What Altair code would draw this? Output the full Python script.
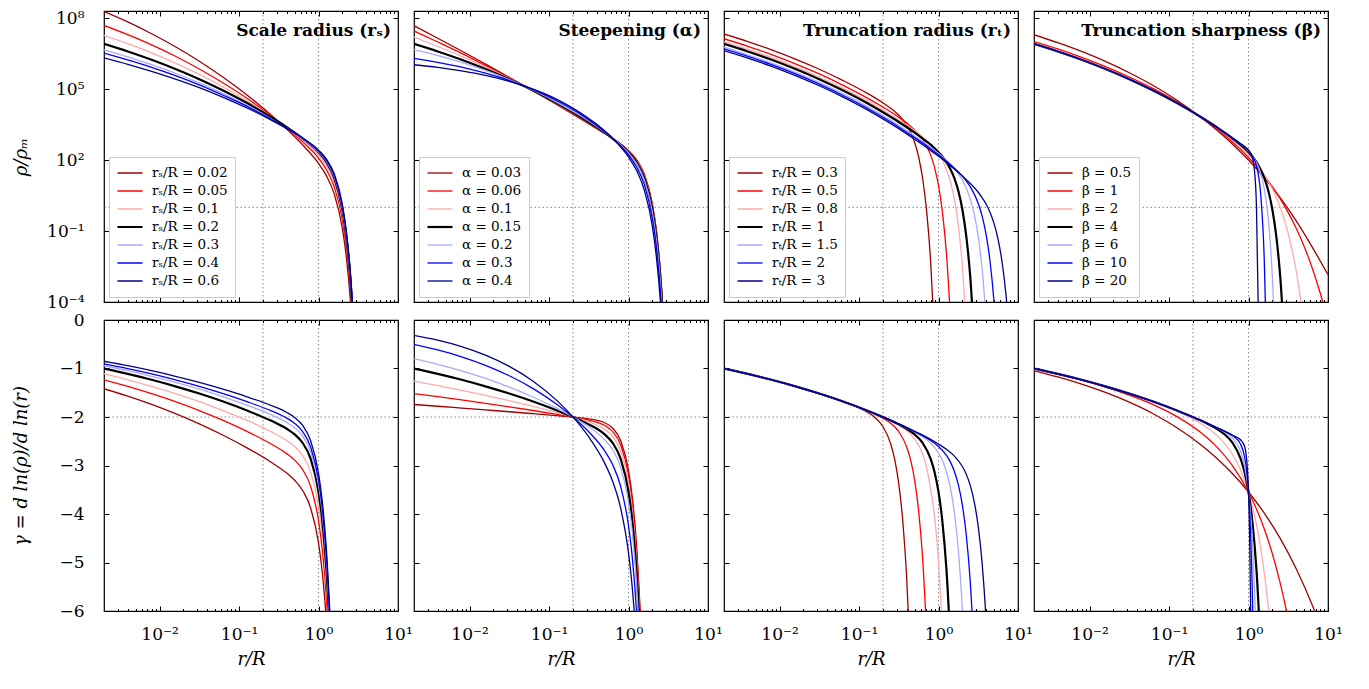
import altair as alt
import pandas as pd

FONT = "DejaVu Serif"
COLORS = ["#a00000", "#ff0000", "#ffaaaa", "#000000", "#aaaaff", "#0000ff", "#000088"]
WIDTHS = [1.3, 1.3, 1.3, 2.2, 1.3, 1.3, 1.3]

PANEL_TITLES = ["Scale radius (rₛ)", "Steepening (α)", "Truncation radius (rₜ)", "Truncation sharpness (β)"]

# ---------------- panel 1 : scale radius ----------------
RS_LABELS = ["rₛ/R = 0.02", "rₛ/R = 0.05", "rₛ/R = 0.1", "rₛ/R = 0.2", "rₛ/R = 0.3", "rₛ/R = 0.4", "rₛ/R = 0.6"]
RS_TOP_LOGR = [-2.7, -2.4, -2.1, -1.8, -1.5, -1.2, -0.9, -0.6, -0.4, -0.2, 0, 0.1, 0.2, 0.3, 0.35, 0.4, 0.45]
RS_TOP_LOGRHO = [
    [8.28, 7.84, 7.34, 6.79, 6.18, 5.50, 4.75, 3.92, 3.31, 2.64, 1.86, 1.33, 0.54, -0.89, -2.10, -3.90, -6.63],
    [7.69, 7.30, 6.87, 6.39, 5.85, 5.26, 4.61, 3.88, 3.35, 2.77, 2.08, 1.59, 0.85, -0.53, -1.71, -3.48, -6.19],
    [7.27, 6.92, 6.53, 6.10, 5.62, 5.09, 4.50, 3.84, 3.36, 2.84, 2.20, 1.75, 1.04, -0.30, -1.47, -3.22, -5.91],
    [6.91, 6.59, 6.24, 5.85, 5.42, 4.94, 4.41, 3.82, 3.39, 2.91, 2.33, 1.91, 1.23, -0.09, -1.24, -2.97, -5.65],
    [6.66, 6.36, 6.03, 5.67, 5.26, 4.81, 4.31, 3.75, 3.35, 2.90, 2.35, 1.94, 1.27, -0.03, -1.17, -2.90, -5.56],
    [6.52, 6.23, 5.92, 5.57, 5.18, 4.74, 4.27, 3.73, 3.35, 2.92, 2.38, 1.98, 1.33, 0.04, -1.09, -2.81, -5.48],
    [6.32, 6.05, 5.75, 5.42, 5.06, 4.65, 4.20, 3.70, 3.33, 2.93, 2.42, 2.04, 1.40, 0.13, -1.00, -2.72, -5.37],
]
RS_BOT_LOGR = [-2.7, -2.4, -2.1, -1.8, -1.5, -1.2, -0.9, -0.6, -0.4, -0.3, -0.2, -0.1, 0, 0.05, 0.1, 0.15]
RS_BOT_GAMMA = [
    [-1.416, -1.570, -1.741, -1.931, -2.142, -2.376, -2.636, -2.928, -3.157, -3.305, -3.515, -3.873, -4.597, -5.245, -6.235, -7.77],
    [-1.233, -1.368, -1.518, -1.683, -1.867, -2.071, -2.297, -2.552, -2.755, -2.889, -3.084, -3.426, -4.135, -4.774, -5.757, -7.28],
    [-1.112, -1.233, -1.368, -1.517, -1.683, -1.867, -2.070, -2.300, -2.486, -2.610, -2.795, -3.127, -3.825, -4.459, -5.436, -6.96],
    [-1.002, -1.111, -1.233, -1.368, -1.517, -1.682, -1.866, -2.074, -2.243, -2.359, -2.535, -2.858, -3.546, -4.176, -5.148, -6.66],
    [-0.943, -1.046, -1.160, -1.287, -1.427, -1.583, -1.756, -1.952, -2.112, -2.223, -2.394, -2.713, -3.396, -4.023, -4.992, -6.50],
    [-0.903, -1.002, -1.111, -1.233, -1.367, -1.517, -1.682, -1.869, -2.024, -2.132, -2.300, -2.615, -3.294, -3.920, -4.887, -6.40],
    [-0.850, -0.943, -1.046, -1.160, -1.286, -1.427, -1.583, -1.760, -1.906, -2.010, -2.173, -2.484, -3.159, -3.782, -4.747, -6.26],
]

# ---------------- panel 2 : steepening ----------------
AL_LABELS = ["α = 0.03", "α = 0.06", "α = 0.1", "α = 0.15", "α = 0.2", "α = 0.3", "α = 0.4"]
AL_TOP_LOGR = [-2.7, -2.4, -2.1, -1.8, -1.5, -1.2, -0.9, -0.6, -0.4, -0.2, 0, 0.1, 0.2, 0.3, 0.35, 0.4, 0.45]
AL_TOP_LOGRHO = [
    [7.68, 7.15, 6.61, 6.06, 5.50, 4.92, 4.34, 3.74, 3.33, 2.91, 2.40, 2.02, 1.40, 0.15, -0.96, -2.66, -5.30],
    [7.46, 6.99, 6.51, 6.00, 5.48, 4.93, 4.36, 3.76, 3.35, 2.91, 2.38, 2.00, 1.36, 0.10, -1.03, -2.74, -5.38],
    [7.20, 6.80, 6.38, 5.93, 5.45, 4.94, 4.38, 3.79, 3.37, 2.92, 2.36, 1.96, 1.31, 0.02, -1.11, -2.83, -5.49],
    [6.91, 6.59, 6.24, 5.85, 5.42, 4.94, 4.41, 3.82, 3.39, 2.91, 2.33, 1.91, 1.23, -0.09, -1.24, -2.97, -5.65],
    [6.67, 6.42, 6.13, 5.79, 5.40, 4.95, 4.44, 3.86, 3.42, 2.92, 2.30, 1.86, 1.15, -0.20, -1.37, -3.12, -5.82],
    [6.30, 6.13, 5.93, 5.67, 5.36, 4.98, 4.51, 3.93, 3.46, 2.92, 2.22, 1.72, 0.95, -0.47, -1.68, -3.48, -6.23],
    [6.03, 5.92, 5.77, 5.58, 5.33, 5.00, 4.57, 3.99, 3.51, 2.92, 2.13, 1.57, 0.72, -0.80, -2.07, -3.92, -6.74],
]
AL_BOT_LOGR = [-2.7, -2.4, -2.1, -1.8, -1.5, -1.2, -0.9, -0.7, -0.5, -0.3, -0.2, -0.1, 0, 0.05, 0.1, 0.15]
AL_BOT_GAMMA = [
    [-1.742, -1.778, -1.816, -1.854, -1.892, -1.932, -1.972, -2.000, -2.038, -2.119, -2.228, -2.483, -3.099, -3.691, -4.626, -6.102],
    [-1.517, -1.581, -1.648, -1.718, -1.791, -1.866, -1.945, -2.000, -2.066, -2.176, -2.301, -2.571, -3.203, -3.803, -4.745, -6.230],
    [-1.261, -1.352, -1.449, -1.552, -1.663, -1.782, -1.910, -2.000, -2.104, -2.255, -2.402, -2.694, -3.349, -3.961, -4.916, -6.413],
    [-1.002, -1.111, -1.233, -1.368, -1.517, -1.682, -1.866, -2.000, -2.152, -2.359, -2.535, -2.858, -3.546, -4.176, -5.148, -6.663],
    [-0.796, -0.914, -1.049, -1.204, -1.383, -1.588, -1.823, -1.999, -2.202, -2.466, -2.675, -3.033, -3.759, -4.409, -5.401, -6.938],
    [-0.502, -0.618, -0.760, -0.935, -1.150, -1.415, -1.741, -1.999, -2.305, -2.698, -2.981, -3.423, -4.241, -4.940, -5.985, -7.577],
    [-0.317, -0.417, -0.550, -0.726, -0.957, -1.261, -1.662, -1.998, -2.412, -2.951, -3.325, -3.870, -4.808, -5.572, -6.687, -8.35],
]

# ---------------- panel 3 : truncation radius ----------------
RT_LABELS = ["rₜ/R = 0.3", "rₜ/R = 0.5", "rₜ/R = 0.8", "rₜ/R = 1", "rₜ/R = 1.5", "rₜ/R = 2", "rₜ/R = 3"]
RT_TOP_LOGR = [
    [-2.7, -2.4, -2.1, -1.8, -1.5, -1.2, -0.9, -0.7, -0.55, -0.45, -0.35, -0.3, -0.25, -0.2, -0.15, -0.1, -0.05],
    [-2.7, -2.4, -2.1, -1.8, -1.5, -1.2, -0.9, -0.7, -0.5, -0.4, -0.3, -0.2, -0.15, -0.1, -0.05, 0, 0.05, 0.1, 0.15],
    [-2.7, -2.4, -2.1, -1.8, -1.5, -1.2, -0.9, -0.7, -0.5, -0.3, -0.2, -0.1, 0, 0.05, 0.1, 0.15, 0.2, 0.25, 0.3, 0.35],
    [-2.7, -2.4, -2.1, -1.8, -1.5, -1.2, -0.9, -0.7, -0.5, -0.3, -0.2, -0.1, 0, 0.05, 0.1, 0.15, 0.2, 0.25, 0.3, 0.35, 0.4, 0.45],
    [-2.7, -2.4, -2.1, -1.8, -1.5, -1.2, -0.9, -0.7, -0.5, -0.3, -0.1, 0, 0.1, 0.2, 0.25, 0.3, 0.35, 0.4, 0.45, 0.5, 0.55, 0.6],
    [-2.7, -2.4, -2.1, -1.8, -1.5, -1.2, -0.9, -0.7, -0.5, -0.3, -0.1, 0, 0.1, 0.2, 0.3, 0.35, 0.4, 0.45, 0.5, 0.55, 0.6, 0.65, 0.7, 0.75],
    [-2.7, -2.4, -2.1, -1.8, -1.5, -1.2, -0.9, -0.7, -0.5, -0.3, -0.1, 0, 0.1, 0.2, 0.3, 0.4, 0.5, 0.55, 0.6, 0.65, 0.7, 0.75, 0.8, 0.85, 0.9],
]
RT_TOP_LOGRHO = [
    [7.33, 7.01, 6.66, 6.27, 5.84, 5.36, 4.83, 4.42, 4.05, 3.71, 3.17, 2.74, 2.13, 1.22, -0.14, -2.23, -5.49],
    [7.13, 6.81, 6.46, 6.07, 5.64, 5.16, 4.63, 4.24, 3.81, 3.57, 3.27, 2.88, 2.60, 2.22, 1.69, 0.92, -0.22, -1.96, -4.64],
    [7.00, 6.68, 6.33, 5.94, 5.51, 5.03, 4.50, 4.11, 3.70, 3.24, 2.98, 2.67, 2.26, 1.98, 1.60, 1.08, 0.33, -0.79, -2.48, -5.09],
    [6.91, 6.59, 6.24, 5.85, 5.42, 4.94, 4.41, 4.02, 3.61, 3.16, 2.91, 2.65, 2.33, 2.14, 1.91, 1.61, 1.23, 0.69, -0.09, -1.24, -2.97, -5.65],
    [6.77, 6.45, 6.10, 5.71, 5.28, 4.80, 4.27, 3.88, 3.47, 3.02, 2.54, 2.28, 1.99, 1.64, 1.42, 1.15, 0.81, 0.35, -0.29, -1.24, -2.64, -4.79],
    [6.70, 6.38, 6.03, 5.64, 5.21, 4.73, 4.20, 3.81, 3.40, 2.95, 2.48, 2.22, 1.95, 1.66, 1.32, 1.11, 0.87, 0.56, 0.16, -0.39, -1.17, -2.33, -4.07, -6.74],
    [6.63, 6.31, 5.96, 5.57, 5.14, 4.66, 4.13, 3.74, 3.33, 2.88, 2.41, 2.16, 1.90, 1.62, 1.33, 1.01, 0.64, 0.40, 0.13, -0.23, -0.70, -1.36, -2.32, -3.73, -5.87],
]
RT_BOT_LOGR = [
    [-2.7, -2.4, -2.1, -1.8, -1.5, -1.2, -0.9, -0.8, -0.7, -0.6, -0.55, -0.5, -0.45, -0.4, -0.35],
    [-2.7, -2.4, -2.1, -1.8, -1.5, -1.2, -0.9, -0.7, -0.6, -0.5, -0.4, -0.35, -0.3, -0.25, -0.2, -0.15],
    [-2.7, -2.4, -2.1, -1.8, -1.5, -1.2, -0.9, -0.7, -0.5, -0.4, -0.3, -0.2, -0.15, -0.1, -0.05, 0, 0.05],
    [-2.7, -2.4, -2.1, -1.8, -1.5, -1.2, -0.9, -0.7, -0.5, -0.4, -0.3, -0.2, -0.1, -0.05, 0, 0.05, 0.1, 0.15],
    [-2.7, -2.4, -2.1, -1.8, -1.5, -1.2, -0.9, -0.7, -0.5, -0.3, -0.2, -0.1, 0, 0.05, 0.1, 0.15, 0.2, 0.25, 0.3, 0.35],
    [-2.7, -2.4, -2.1, -1.8, -1.5, -1.2, -0.9, -0.7, -0.5, -0.3, -0.2, -0.1, 0, 0.1, 0.15, 0.2, 0.25, 0.3, 0.35, 0.4, 0.45],
    [-2.7, -2.4, -2.1, -1.8, -1.5, -1.2, -0.9, -0.7, -0.5, -0.3, -0.1, 0, 0.1, 0.2, 0.3, 0.35, 0.4, 0.45, 0.5, 0.55, 0.6, 0.65],
]
RT_BOT_GAMMA = [
    [-1.002, -1.111, -1.233, -1.368, -1.517, -1.682, -1.897, -2.009, -2.195, -2.562, -2.886, -3.378, -4.139, -5.323, -7.18],
    [-1.002, -1.111, -1.233, -1.368, -1.517, -1.682, -1.870, -2.024, -2.134, -2.302, -2.620, -2.893, -3.305, -3.935, -4.911, -6.436],
    [-1.002, -1.111, -1.233, -1.368, -1.517, -1.682, -1.867, -2.003, -2.166, -2.280, -2.450, -2.763, -3.032, -3.488, -4.044, -4.989, -6.464],
    [-1.002, -1.111, -1.233, -1.368, -1.517, -1.682, -1.866, -2.000, -2.152, -2.243, -2.359, -2.534, -2.858, -3.133, -3.546, -4.176, -5.148, -6.662],
    [-1.002, -1.111, -1.233, -1.368, -1.517, -1.682, -1.866, -1.999, -2.144, -2.309, -2.407, -2.539, -2.744, -2.904, -3.133, -3.468, -3.975, -4.753, -5.957, -7.839],
    [-1.002, -1.111, -1.233, -1.368, -1.517, -1.682, -1.866, -1.999, -2.142, -2.300, -2.386, -2.485, -2.609, -2.793, -2.930, -3.122, -3.401, -3.815, -4.443, -5.413, -6.919],
    [-1.002, -1.111, -1.233, -1.368, -1.517, -1.682, -1.866, -1.999, -2.142, -2.297, -2.461, -2.558, -2.667, -2.806, -3.020, -3.183, -3.416, -3.754, -4.262, -5.038, -6.237, -8.11],
]

# ---------------- panel 4 : truncation sharpness ----------------
BE_LABELS = ["β = 0.5", "β = 1", "β = 2", "β = 4", "β = 6", "β = 10", "β = 20"]
BE_TOP_LOGR = [
    [-2.7, -2.4, -2.1, -1.8, -1.5, -1.2, -0.9, -0.6, -0.4, -0.2, 0, 0.2, 0.4, 0.6, 0.8, 1.0],
    [-2.7, -2.4, -2.1, -1.8, -1.5, -1.2, -0.9, -0.6, -0.4, -0.2, 0, 0.1, 0.2, 0.3, 0.4, 0.5, 0.6, 0.7, 0.8, 0.9, 0.95],
    [-2.7, -2.4, -2.1, -1.8, -1.5, -1.2, -0.9, -0.6, -0.4, -0.2, 0, 0.1, 0.2, 0.3, 0.4, 0.5, 0.6, 0.65, 0.7],
    [-2.7, -2.4, -2.1, -1.8, -1.5, -1.2, -0.9, -0.6, -0.4, -0.2, 0, 0.05, 0.1, 0.15, 0.2, 0.25, 0.3, 0.35, 0.4, 0.45],
    [-2.7, -2.4, -2.1, -1.8, -1.5, -1.2, -0.9, -0.6, -0.4, -0.2, 0, 0.05, 0.1, 0.15, 0.2, 0.25, 0.3, 0.325],
    [-2.7, -2.4, -2.1, -1.8, -1.5, -1.2, -0.9, -0.6, -0.4, -0.2, -0.1, 0, 0.05, 0.1, 0.15, 0.2, 0.225],
    [-2.7, -2.4, -2.1, -1.8, -1.5, -1.2, -0.9, -0.6, -0.4, -0.2, -0.1, -0.05, 0, 0.05, 0.075, 0.1, 0.125],
]
BE_TOP_LOGRHO = [
    [7.30, 6.96, 6.59, 6.17, 5.69, 5.15, 4.53, 3.81, 3.27, 2.67, 2.00, 1.24, 0.40, -0.57, -1.67, -2.85],
    [7.01, 6.70, 6.34, 5.95, 5.51, 5.02, 4.46, 3.81, 3.32, 2.76, 2.11, 1.74, 1.33, 0.87, 0.36, -0.22, -0.88, -1.65, -2.55, -3.60, -4.19],
    [6.92, 6.61, 6.25, 5.86, 5.43, 4.95, 4.42, 3.82, 3.37, 2.86, 2.23, 1.85, 1.38, 0.78, -0.01, -1.11, -2.69, -3.74, -5.02],
    [6.91, 6.59, 6.24, 5.85, 5.42, 4.94, 4.41, 3.82, 3.39, 2.91, 2.33, 2.14, 1.91, 1.61, 1.23, 0.69, -0.09, -1.24, -2.97, -5.65],
    [6.91, 6.59, 6.24, 5.85, 5.42, 4.94, 4.41, 3.82, 3.39, 2.93, 2.37, 2.17, 1.89, 1.47, 0.76, -0.52, -2.94, -4.89],
    [6.91, 6.59, 6.24, 5.85, 5.42, 4.94, 4.41, 3.82, 3.39, 2.93, 2.69, 2.40, 2.17, 1.75, 0.67, -2.43, -5.88],
    [6.91, 6.59, 6.24, 5.85, 5.42, 4.94, 4.41, 3.82, 3.39, 2.93, 2.69, 2.57, 2.42, 2.09, 1.56, 0.01, -4.76],
]
BE_BOT_LOGR = [
    [-2.7, -2.4, -2.1, -1.8, -1.5, -1.2, -0.9, -0.6, -0.4, -0.2, 0, 0.2, 0.4, 0.6, 0.8, 0.85, 1.0],
    [-2.7, -2.4, -2.1, -1.8, -1.5, -1.2, -0.9, -0.6, -0.4, -0.2, 0, 0.1, 0.2, 0.3, 0.4, 0.45, 0.5],
    [-2.7, -2.4, -2.1, -1.8, -1.5, -1.2, -0.9, -0.6, -0.4, -0.2, -0.1, 0, 0.1, 0.15, 0.2, 0.25, 0.3],
    [-2.7, -2.4, -2.1, -1.8, -1.5, -1.2, -0.9, -0.6, -0.4, -0.3, -0.2, -0.1, -0.05, 0, 0.05, 0.1, 0.15],
    [-2.7, -2.4, -2.1, -1.8, -1.5, -1.2, -0.9, -0.6, -0.4, -0.3, -0.2, -0.15, -0.1, -0.05, 0, 0.05, 0.1],
    [-2.7, -2.4, -2.1, -1.8, -1.5, -1.2, -0.9, -0.6, -0.4, -0.2, -0.15, -0.1, -0.05, -0.025, 0, 0.025, 0.05, 0.075],
    [-2.7, -2.4, -2.1, -1.8, -1.5, -1.2, -0.9, -0.6, -0.4, -0.2, -0.1, -0.05, -0.025, -0.0125, 0, 0.0125, 0.025, 0.0375],
]
BE_BOT_GAMMA = [
    [-1.047, -1.174, -1.322, -1.494, -1.695, -1.933, -2.221, -2.571, -2.849, -3.170, -3.546, -3.987, -4.509, -5.127, -5.869, -6.076, -6.76],
    [-1.004, -1.115, -1.241, -1.384, -1.549, -1.745, -1.992, -2.321, -2.616, -3.007, -3.546, -3.895, -4.313, -4.819, -5.436, -5.792, -6.188],
    [-1.002, -1.111, -1.233, -1.368, -1.518, -1.686, -1.882, -2.133, -2.376, -2.774, -3.091, -3.546, -4.221, -4.676, -5.240, -5.938, -6.805],
    [-1.002, -1.111, -1.233, -1.368, -1.517, -1.682, -1.866, -2.074, -2.243, -2.359, -2.534, -2.858, -3.133, -3.546, -4.176, -5.148, -6.662],
    [-1.002, -1.111, -1.233, -1.368, -1.517, -1.682, -1.866, -2.070, -2.222, -2.312, -2.439, -2.544, -2.711, -3.003, -3.546, -4.586, -6.617],
    [-1.002, -1.111, -1.233, -1.368, -1.517, -1.682, -1.866, -2.070, -2.218, -2.386, -2.450, -2.560, -2.818, -3.086, -3.546, -4.346, -5.753, -8.24],
    [-1.002, -1.111, -1.233, -1.368, -1.517, -1.682, -1.866, -2.070, -2.218, -2.376, -2.470, -2.602, -2.840, -3.097, -3.546, -4.335, -5.730, -8.20],
]

# reference lines and axis ticks
GRID_R = [0.2, 1.0]
GRID_RHO = [1.0]
GRID_GAMMA = [-2.0]
X_MAJOR = [0.01, 0.1, 1, 10]
X_MINOR = [0.003, 0.004, 0.005, 0.006, 0.007, 0.008, 0.009,
           0.02, 0.03, 0.04, 0.05, 0.06, 0.07, 0.08, 0.09,
           0.2, 0.3, 0.4, 0.5, 0.6, 0.7, 0.8, 0.9,
           2, 3, 4, 5, 6, 7, 8, 9]
Y_TOP_MAJOR = [1e-4, 1e-1, 1e2, 1e5, 1e8]
Y_BOT_MAJOR = [-6, -5, -4, -3, -2, -1, 0]

W, H_TOP, H_BOT = 294, 291, 291
XS = alt.Scale(type="log", domain=[0.002, 10], nice=False)

XLAB = ("datum.value < 0.05 ? '10⁻²' : datum.value < 0.5 ? '10⁻¹' : "
        "datum.value < 5 ? '10⁰' : '10¹'")
YTOPLAB = ("datum.value < 0.001 ? '10⁻⁴' : datum.value < 1 ? '10⁻¹' : "
           "datum.value < 1000 ? '10²' : datum.value < 1000000 ? '10⁵' : '10⁸'")
YBOTLAB = "datum.value == 0 ? '0' : '−' + abs(datum.value)"


def frame(labels, logr, vals):
    rows = []
    for i, lab in enumerate(labels):
        xs = logr[i] if isinstance(logr[0], list) else logr
        assert len(xs) == len(vals[i]), (lab, len(xs), len(vals[i]))
        for a, b in zip(xs, vals[i]):
            rows.append((lab, i, a, b))
    return pd.DataFrame(rows, columns=["label", "k", "logr", "val"])


TK = dict(labels=False, domain=False, grid=False, ticks=True,
          tickColor="black", tickWidth=1, title=None)


def legend():
    return alt.Legend(orient="bottom-left", offset=5, title=None,
                      symbolType="stroke", symbolSize=625, labelFont=FONT,
                      labelFontSize=13.5, labelColor="black", labelOffset=8,
                      labelLimit=0, padding=7, rowPadding=0, clipHeight=18,
                      fillColor="white", strokeColor="#cccccc", cornerRadius=0)


def panel(df, labels, title, top, first_col):
    H = H_TOP if top else H_BOT
    if top:
        ysc = alt.Scale(type="log", domain=[1e-4, 2e8], nice=False)
        yvals, ylab, ytitle = Y_TOP_MAJOR, YTOPLAB, "ρ/ρₘ"
        gy = GRID_RHO
        calc_v = "pow(10, datum.val)"
    else:
        ysc = alt.Scale(domain=[-6, 0], nice=False, zero=False)
        yvals, ylab, ytitle = Y_BOT_MAJOR, YBOTLAB, "γ = d ln(ρ)/d ln(r)"
        gy = GRID_GAMMA
        calc_v = "datum.val"

    rule_style = dict(stroke="#7a7a7a", strokeDash=[1.5, 2.5], strokeWidth=0.9)
    vdf = pd.DataFrame({"r": GRID_R, "v": gy * len(GRID_R)})
    hdf = pd.DataFrame({"v": gy})
    vrule = alt.Chart(vdf).mark_rule(**rule_style).encode(
        x=alt.X("r:Q", scale=XS, axis=None))
    hrule = alt.Chart(hdf).mark_rule(**rule_style).encode(
        y=alt.Y("v:Q", scale=ysc, axis=None))

    leg = legend() if top else None
    lines = alt.Chart(df).transform_calculate(
        r="pow(10, datum.logr)", v=calc_v
    ).mark_line(clip=True, interpolate="monotone").encode(
        x=alt.X("r:Q", scale=XS, axis=None),
        y=alt.Y("v:Q", scale=ysc, axis=None),
        color=alt.Color("label:N", scale=alt.Scale(domain=labels, range=COLORS), legend=leg),
        strokeWidth=alt.StrokeWidth("label:N", scale=alt.Scale(type="ordinal", domain=labels, range=WIDTHS), legend=leg),
        detail="k:N",
    )

    layers = [vrule, hrule, lines]
    if top:
        ttl = alt.Chart(pd.DataFrame({"t": [title]})).mark_text(
            align="right", baseline="middle", font=FONT, fontSize=17,
            fontWeight="bold", color="black"
        ).encode(text="t:N", x=alt.value(W - 7), y=alt.value(20))
        layers.append(ttl)

    xaxes = [
        alt.Axis(orient="top", offset=-H, values=X_MAJOR, tickSize=5, **TK),
        alt.Axis(orient="top", offset=-H, values=X_MINOR, tickSize=2.5, **TK),
        alt.Axis(orient="bottom", offset=-H, values=X_MAJOR, tickSize=5, **TK),
        alt.Axis(orient="bottom", offset=-H, values=X_MINOR, tickSize=2.5, **TK),
    ]
    if not top:
        xaxes.append(alt.Axis(
            orient="bottom", values=X_MAJOR, ticks=False, tickSize=0, domain=False,
            grid=False, labels=True, labelExpr=XLAB, labelFont=FONT, labelFontSize=17,
            labelColor="black", labelPadding=15, labelFlush=False, labelOverlap=False,
            title="r/R", titleFont=FONT, titleFontSize=18, titleFontStyle="italic",
            titleFontWeight="normal", titleColor="black", titlePadding=8))
    yaxes = [
        alt.Axis(orient="right", offset=-W, values=yvals, tickSize=5, **TK),
        alt.Axis(orient="left", offset=-W, values=yvals, tickSize=5, **TK),
    ]
    if first_col:
        yaxes.append(alt.Axis(
            orient="left", values=yvals, ticks=False, tickSize=0, domain=False,
            grid=False, labels=True, labelExpr=ylab, labelFont=FONT, labelFontSize=17,
            labelColor="black", labelPadding=20, labelFlush=False, labelOverlap=False,
            title=ytitle, titleFont=FONT, titleFontSize=18, titleFontWeight="normal",
            titleFontStyle="italic", titleColor="black", titleX=-83, titleY=H / 2,
            titleAlign="center", titleBaseline="middle", titleAngle=270))
    for i in range(max(len(xaxes), len(yaxes))):
        layers.append(alt.Chart(vdf).mark_point(opacity=0, size=1).encode(
            x=alt.X("r:Q", scale=XS, axis=xaxes[i] if i < len(xaxes) else None),
            y=alt.Y("v:Q", scale=ysc, axis=yaxes[i] if i < len(yaxes) else None),
        ))
    return alt.layer(*layers).resolve_axis(x="independent", y="independent").properties(width=W, height=H)


sets = [
    (RS_LABELS, frame(RS_LABELS, RS_TOP_LOGR, RS_TOP_LOGRHO), frame(RS_LABELS, RS_BOT_LOGR, RS_BOT_GAMMA)),
    (AL_LABELS, frame(AL_LABELS, AL_TOP_LOGR, AL_TOP_LOGRHO), frame(AL_LABELS, AL_BOT_LOGR, AL_BOT_GAMMA)),
    (RT_LABELS, frame(RT_LABELS, RT_TOP_LOGR, RT_TOP_LOGRHO), frame(RT_LABELS, RT_BOT_LOGR, RT_BOT_GAMMA)),
    (BE_LABELS, frame(BE_LABELS, BE_TOP_LOGR, BE_TOP_LOGRHO), frame(BE_LABELS, BE_BOT_LOGR, BE_BOT_GAMMA)),
]

tops = [panel(s[1], s[0], PANEL_TITLES[c], True, c == 0) for c, s in enumerate(sets)]
bots = [panel(s[2], s[0], PANEL_TITLES[c], False, c == 0) for c, s in enumerate(sets)]

RES = dict(color="independent", strokeWidth="independent")
chart = alt.concat(
    *tops, *bots, columns=4, spacing={"row": 18, "column": 16}, bounds="flush"
).resolve_scale(**RES).resolve_legend(**RES).properties(
    padding={"left": 3, "top": 0, "right": 5, "bottom": 0},
    background="white",
).configure_view(stroke="black", strokeWidth=1.2)

chart.save("out.html", embed_options={"renderer": "svg", "actions": False})
